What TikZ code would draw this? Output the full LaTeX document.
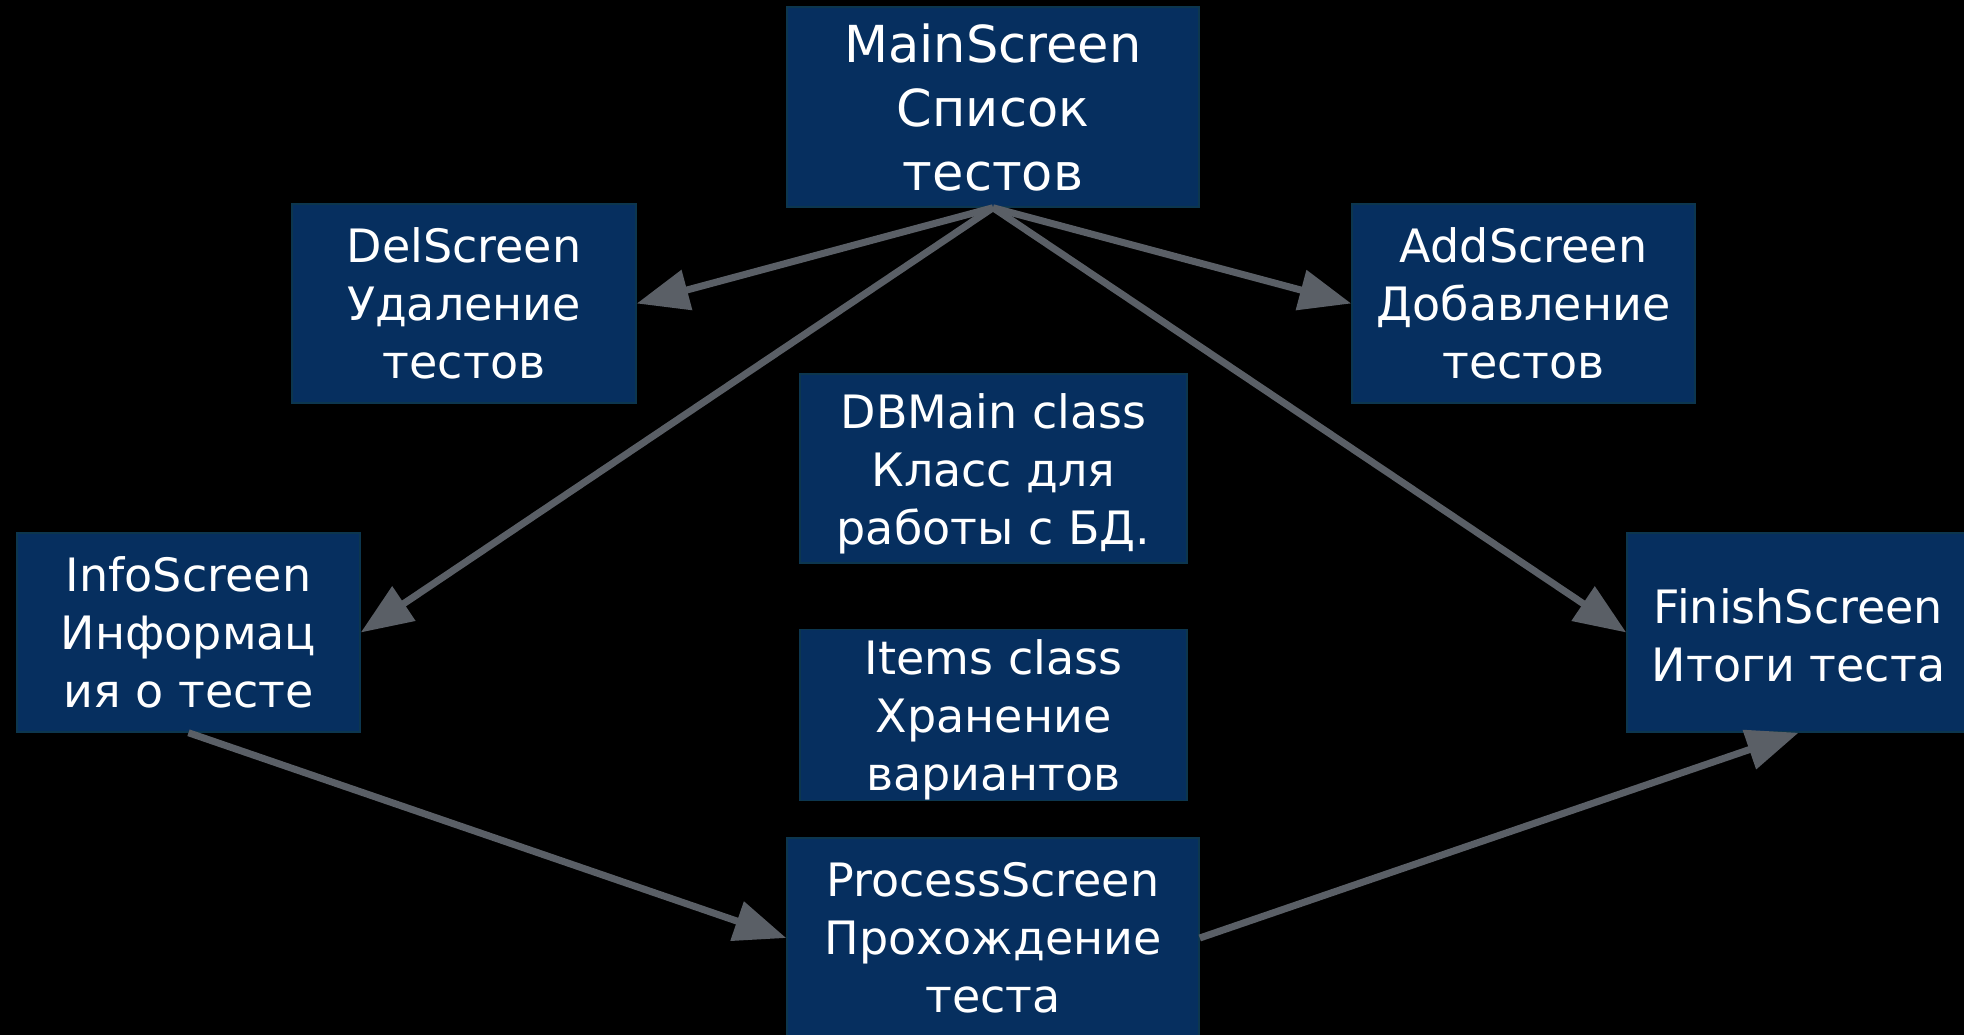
\documentclass[tikz,border=0pt]{standalone}
\usepackage{fontspec}
\setmainfont{DejaVu Sans}
\usetikzlibrary{arrows.meta}
\definecolor{boxfill}{RGB}{6,47,95}
\definecolor{boxline}{RGB}{12,54,78}
\definecolor{arrowgray}{RGB}{90,95,102}
\newcommand{\downstrut}{\rule{0pt}{45pt}}
\tikzset{
  screenbox/.style={fill=boxfill, draw=boxline, line width=1.5pt, inner sep=0pt,
    align=center, text=white, font=\fontsize{46}{58}\selectfont},
  bigbox/.style={screenbox, font=\fontsize{51}{64}\selectfont},
  conn/.style={draw=arrowgray, line width=7pt,
    -{Triangle[length=52pt,width=40pt]}, arrowgray}
}
\begin{document}
\begin{tikzpicture}[x=1pt,y=-1pt]
\fill[black] (0,0) rectangle (1964,1035);
\useasboundingbox (0,0) rectangle (1964,1035);

\node[bigbox, minimum width=412pt, minimum height=200pt] (main) at (993,107) {MainScreen\\Список\\тестов};
\node[screenbox, minimum width=344pt, minimum height=199pt] (del) at (464,303.5) {DelScreen\\Удаление\\тестов};
\node[screenbox, minimum width=343pt, minimum height=199pt] (add) at (1523.5,303.5) {AddScreen\\Добавление\\тестов};
\node[screenbox, minimum width=387pt, minimum height=189pt] (db) at (993.5,468.5) {\downstrut DBMain class\\Класс для\\работы с БД.};
\node[screenbox, minimum width=387pt, minimum height=166pt] (items) at (993.5,715) {\downstrut Items class\\Хранение\\вариантов};
\node[screenbox, minimum width=343pt, minimum height=199pt] (info) at (188.5,632.5) {InfoScreen\\Информац\\ия о тесте};
\node[screenbox, minimum width=343pt, minimum height=199pt] (finish) at (1798.5,632.5) {\rule{0pt}{40pt}FinishScreen\\Итоги теста};
\node[screenbox, minimum width=412pt, minimum height=200pt] (process) at (993,938) {ProcessScreen\\Прохождение\\теста};

\draw[conn] (main.south) -- (del.east);
\draw[conn] (main.south) -- (add.west);
\draw[conn] (main.south) -- (info.east);
\draw[conn] (main.south) -- (finish.west);
\draw[conn] (info.south) -- (process.west);
\draw[conn] (process.east) -- (finish.south);
\end{tikzpicture}
\end{document}
